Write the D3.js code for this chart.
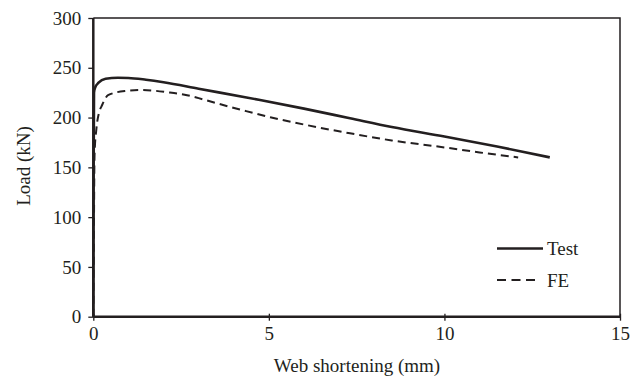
<!DOCTYPE html>
<html>
<head>
<meta charset="utf-8">
<script src="https://cdn.jsdelivr.net/npm/d3@7"></script>
<style>
body{margin:0;background:#fff;}
svg text{font-family:"Liberation Serif","Times New Roman",serif;fill:#231f20;}
</style>
</head>
<body>
<div id="chart"></div>
<script>
// data (x = web shortening mm, y = load kN)
var testX = [0,0.01,0.02,0.05,0.15,0.35,0.7,1.0,1.5,2,3,4.75,6,7.31,8.5,10,11.5,13];
var testY = [0,150,225,230,235,239,240,239.8,238,235.5,229,217.6,209,199.3,190.5,181,171,160];
var feX = [0,0.02,0.03,0.04,0.085,0.18,0.23,0.42,0.9,1.36,2.13,2.6,3,3.5,4.19,5.04,6,7.31,8.5,10,11,12.1];
var feY = [0,100,150,167,187.5,207,211,222.5,226.7,227.7,225.4,223,219.5,214.5,208,200.3,193,184.2,177,170,165,160];
var xTicks = [0,5,10,15];
var yTicks = [0,50,100,150,200,250,300];

var w = 641, h = 378;
var m = {l:93.3, r:21, t:18, b:61.3};
var fs = '19px';

var svg = d3.select('div#chart').append('svg')
			.attr('width',w)
			.attr('height',h);

var x = d3.scaleLinear().domain([0,15]).range([m.l,w-m.r]);
var y = d3.scaleLinear().domain([0,300]).range([h-m.b,m.t]);

//frame top + right
svg.append('path')
	.attr('d','M'+x(0)+','+y(300)+'H'+x(15)+'V'+y(0))
	.attr('fill','none')
	.attr('stroke','#231f20')
	.attr('stroke-width',1.5);

//axes
var yAxis = svg.append('g')
				.attr('transform','translate('+x(0)+',0)')
				.call(d3.axisLeft(y).tickValues(yTicks).tickSize(5).tickPadding(7));
var xAxis = svg.append('g')
				.attr('transform','translate(0,'+y(0)+')')
				.call(d3.axisBottom(x).tickValues(xTicks).tickSize(4).tickPadding(6));

[xAxis,yAxis].forEach(function(a){
	a.select('.domain').attr('stroke','#231f20').attr('stroke-width',2.5);
	a.selectAll('.tick line').attr('stroke','#231f20').attr('stroke-width',1.3);
	a.selectAll('.tick text').style('font-size',fs).attr('fill','#231f20');
});
xAxis.select('.domain').attr('d','M'+x(0)+',0H'+x(15));
xAxis.selectAll('.tick line').attr('y1',-3);
yAxis.select('.domain').attr('d','M0,'+y(0)+'V'+y(300));

//series
var line = d3.line()
			.x(function(d){return x(d[0]);})
			.y(function(d){return y(d[1]);})
			.curve(d3.curveMonotoneX);

var testPts = testX.map(function(v,i){return [v,testY[i]];});
var fePts = feX.map(function(v,i){return [v,feY[i]];});

svg.append('path')
	.datum(fePts)
	.attr('d',line)
	.attr('fill','none')
	.attr('stroke','#231f20')
	.attr('stroke-width',2)
	.attr('stroke-dasharray','8,5');

svg.append('path')
	.datum(testPts)
	.attr('d',line)
	.attr('fill','none')
	.attr('stroke','#231f20')
	.attr('stroke-width',2.6);

//legend
var legend = svg.append('g').attr('id','legend');
legend.append('line')
		.attr('x1',497).attr('x2',543)
		.attr('y1',248.5).attr('y2',248.5)
		.attr('stroke','#231f20').attr('stroke-width',2.6);
legend.append('line')
		.attr('x1',497).attr('x2',535)
		.attr('y1',280).attr('y2',280)
		.attr('stroke','#231f20').attr('stroke-width',2)
		.attr('stroke-dasharray','9,5.5');
legend.append('text').attr('x',547).attr('y',255).style('font-size',fs).text('Test');
legend.append('text').attr('x',547).attr('y',286.5).style('font-size',fs).text('FE');

//axis titles
svg.append('text')
	.attr('x',357).attr('y',371.5)
	.attr('text-anchor','middle')
	.style('font-size',fs)
	.text('Web shortening (mm)');
svg.append('text')
	.attr('transform','translate(30,166) rotate(-90)')
	.attr('text-anchor','middle')
	.style('font-size',fs)
	.text('Load (kN)');
</script>
</body>
</html>
